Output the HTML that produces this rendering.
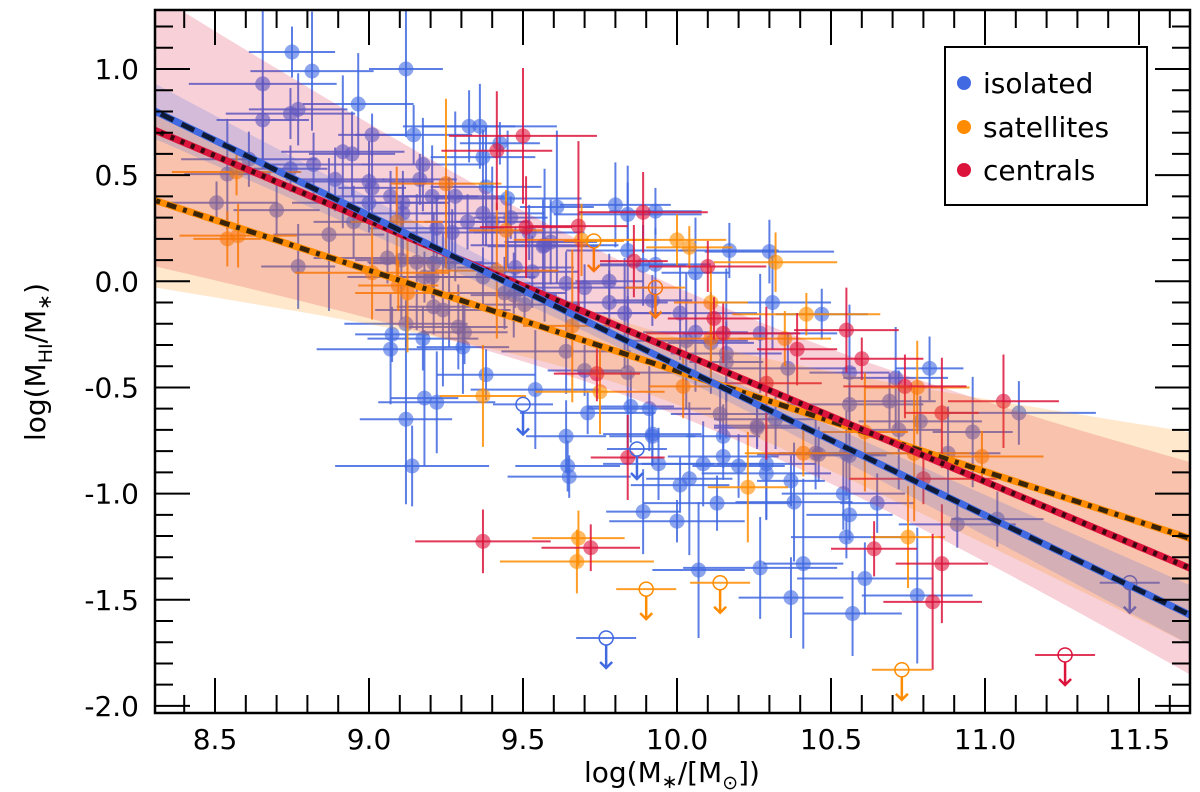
<!DOCTYPE html>
<html><head><meta charset="utf-8"><style>
html,body{margin:0;padding:0;background:#fff;}
svg{display:block;font-family:"DejaVu Sans","Liberation Sans",sans-serif;}
</style></head><body>
<svg id="chart" width="1200" height="792" viewBox="0 0 1200 792" xmlns="http://www.w3.org/2000/svg">
<defs><clipPath id="pc"><rect x="155" y="10" width="1035" height="703"/></clipPath></defs>
<g id="pts" clip-path="url(#pc)"></g>
<g id="bands" clip-path="url(#pc)"></g>
<g id="lines" clip-path="url(#pc)"></g>
<g id="axes"></g>
<g>
<rect x="945" y="47" width="202" height="158" fill="#fff" stroke="#000" stroke-width="2"/>
<circle cx="964" cy="83" r="7" fill="#4169e1"/>
<text x="983" y="93" font-size="28">isolated</text>
<circle cx="964" cy="127" r="7" fill="#ff8c00"/>
<text x="983" y="137" font-size="28">satellites</text>
<circle cx="964" cy="170" r="7" fill="#dc143c"/>
<text x="983" y="180" font-size="28">centrals</text>
</g>
<text x="672" y="782" font-size="28" text-anchor="middle">log(M<tspan font-size="19" dy="6">∗</tspan><tspan dy="-6">/[M</tspan><tspan font-size="19" dy="7">⊙</tspan><tspan dy="-7">])</tspan></text>
<text transform="translate(45,362) rotate(-90)" font-size="28" text-anchor="middle">log(M<tspan font-size="19" dy="7">HI</tspan><tspan dy="-7">/M</tspan><tspan font-size="19" dy="6">∗</tspan><tspan dy="-6">)</tspan></text>
</svg>
<script>
const isoX=[8.75,8.815,9.12,8.965,8.655,8.655,8.77,8.745,9.01,9.145,9.325,9.36,9.425,9.37,8.915,8.945,8.82,8.745,8.61,8.89,8.54,9.175,9.165,9.38,9.45,9.205,9.28,9.0,9.01,9.07,9.11,9.0,8.95,9.11,8.505,8.70,8.87,8.77,9.22,9.27,9.32,9.37,9.40,9.565,9.06,9.105,9.155,9.21,9.26,9.475,9.53,9.18,9.205,9.37,9.44,9.47,9.505,9.21,9.24,9.29,9.31,9.12,9.075,9.175,9.07,9.305,9.38,9.54,9.18,9.22,9.12,9.14,9.64,9.645,9.65,9.92,9.94,9.89,10.0,10.01,10.04,10.085,10.15,10.15,10.13,10.2,10.29,10.29,10.37,10.38,10.07,10.27,10.41,10.37,10.54,10.56,10.55,10.65,10.61,10.57,10.26,10.46,9.61,9.80,9.84,9.93,10.17,10.3,10.06,10.31,10.47,10.27,10.56,10.71,9.84,9.89,9.93,9.7,9.71,9.92,9.85,9.91,9.46,9.52,9.57,9.59,9.64,9.70,9.78,9.78,9.83,10.01,9.92,10.06,10.03,10.11,10.16,10.16,10.36,10.14,10.26,10.32,10.45,10.55,10.56,10.69,9.84,9.64,10.82,10.91,11.04,11.11,10.96,10.88,10.79,10.72,10.78,10.56];
const isoY=[1.08,0.99,1.0,0.835,0.93,0.76,0.81,0.79,0.69,0.69,0.73,0.73,0.65,0.585,0.61,0.60,0.55,0.53,0.575,0.48,0.505,0.55,0.48,0.445,0.39,0.40,0.40,0.47,0.44,0.40,0.37,0.37,0.28,0.32,0.37,0.335,0.22,0.07,0.25,0.23,0.28,0.32,0.28,0.165,0.11,0.10,0.09,0.085,0.09,0.065,0.045,0.02,0.02,0.02,-0.055,-0.065,-0.11,-0.12,-0.135,-0.215,-0.24,-0.20,-0.25,-0.27,-0.32,-0.31,-0.44,-0.51,-0.55,-0.57,-0.65,-0.87,-0.73,-0.87,-0.92,-0.73,-0.86,-1.085,-1.13,-0.96,-0.93,-0.86,-0.73,-0.825,-1.045,-0.87,-0.86,-0.905,-0.94,-1.04,-1.36,-1.35,-1.33,-1.49,-1.0,-1.1,-1.205,-1.045,-1.40,-1.565,-0.69,-0.815,0.35,0.36,0.315,0.33,0.145,0.14,0.04,-0.10,-0.155,-0.245,-0.43,-0.455,0.145,0.075,0.08,-0.42,-0.62,-0.72,-0.59,-0.60,0.30,0.23,0.17,0.185,-0.01,-0.03,0.0,-0.10,-0.15,-0.15,-0.09,-0.24,-0.28,-0.29,-0.34,-0.38,-0.41,-0.625,-0.68,-0.65,-0.81,-0.81,-0.58,-0.565,-0.43,-0.33,-0.41,-1.145,-1.12,-0.62,-0.71,-0.81,-0.66,-0.70,-1.48,-0.82];
const isoLimX=[9.5,9.77,9.87,11.47];
const isoLimY=[-0.58,-1.68,-0.79,-1.42];
const satX=[8.57,8.54,8.575,9.09,9.01,9.095,9.125,9.415,9.37,9.25,9.445,9.69,10.0,10.04,10.32,10.11,10.11,10.42,10.35,9.66,9.75,10.02,10.41,9.68,9.675,10.23,10.78,10.99,10.61,10.77,10.75];
const satY=[0.515,0.20,0.215,0.28,0.04,-0.02,-0.055,0.05,-0.54,0.46,0.24,0.195,0.195,0.16,0.09,-0.10,-0.27,-0.155,-0.27,-0.21,-0.52,-0.495,-0.81,-1.21,-1.32,-0.97,-0.50,-0.825,-0.71,-0.81,-1.205];
const satLimX=[9.73,9.93,9.9,10.14,10.73];
const satLimY=[0.19,-0.03,-1.45,-1.42,-1.83];
const cenX=[9.415,9.5,9.51,9.68,9.89,9.86,10.1,10.12,10.15,10.39,10.55,10.6,9.74,10.29,9.84,9.37,9.72,10.64,10.74,10.86,11.06,10.80,10.86,10.83];
const cenY=[0.615,0.685,0.255,0.26,0.325,0.095,0.07,-0.175,-0.245,-0.32,-0.23,-0.365,-0.435,-0.48,-0.83,-1.225,-1.255,-1.26,-0.495,-0.62,-0.565,-0.93,-1.33,-1.51];
const cenLimX=[11.26];
const cenLimY=[-1.76];
const xErrs=[0.14,0.2,0.12,0.18,0.24,0.15,0.16,0.21,0.11,0.19,0.15,0.25,0.13,0.17,0.2,0.14,0.18,0.12,0.22,0.16];
const yErrs=[0.12,0.2,0.1,0.28,0.15,0.14,0.32,0.11,0.17,0.24,0.13,0.2,0.4,0.15,0.1,0.19,0.26,0.13,0.17,0.22,0.36,0.12];
const isoFit=[0.80,-1.57], isoBand=[0.13,0.05,0.14], isoMid=9.9;
const satFit=[0.38,-1.21], satBand=[0.41,0.15,0.5], satMid=9.8;
const cenFit=[0.71,-1.35], cenBand=[0.64,0.3,0.5], cenMid=10.1;
const xTicks=[8.5,9.0,9.5,10.0,10.5,11.0,11.5];
const yTicks=[1.0,0.5,0.0,-0.5,-1.0,-1.5,-2.0];

const NS="http://www.w3.org/2000/svg";
const X0=8.307,X1=11.663;
const sx=x=>215+(x-8.5)*308, sy=y=>69+(1-y)*212.3;
function mk(tag,attrs,parent){const e=document.createElementNS(NS,tag);for(const k in attrs)e.setAttribute(k,attrs[k]);parent.appendChild(e);return e;}
const pts=document.getElementById('pts'),bands=document.getElementById('bands'),lines=document.getElementById('lines'),axes=document.getElementById('axes');

function drawGroup(xs,ys,col,name,off){
  xs.forEach((x,i)=>{
    const g=mk('g',{},pts);
    
    
    const xe=xErrs[(i+off)%xErrs.length], ye=yErrs[(i*3+off)%yErrs.length];
    mk('line',{x1:sx(x-xe),x2:sx(x+xe),y1:sy(ys[i]),y2:sy(ys[i]),stroke:col,'stroke-width':2,'stroke-opacity':0.85},g);
    mk('line',{x1:sx(x),x2:sx(x),y1:sy(ys[i]+ye),y2:sy(ys[i]-ye),stroke:col,'stroke-width':2,'stroke-opacity':0.85},g);
    mk('circle',{cx:sx(x),cy:sy(ys[i]),r:7.5,fill:col,'fill-opacity':0.6},g);
  });
}
function drawLims(xs,ys,col,name){
  xs.forEach((x,i)=>{
    const g=mk('g',{},pts);
    
    
    const cx=sx(x),cy=sy(ys[i]);
    mk('line',{x1:cx-30,x2:cx+30,y1:cy,y2:cy,stroke:col,'stroke-width':2,'stroke-opacity':0.85},g);
    mk('circle',{cx:cx,cy:cy,r:7,fill:'none',stroke:col,'stroke-width':1.5},g);
    mk('line',{x1:cx,x2:cx,y1:cy+7,y2:cy+30,stroke:col,'stroke-width':2.5},g);
    mk('path',{d:`M${cx-6},${cy+24} L${cx},${cy+30} L${cx+6},${cy+24}`,fill:'none',stroke:col,'stroke-width':2.5},g);
  });
}
drawGroup(isoX,isoY,'#4169e1','isolated',0);
drawGroup(satX,satY,'#ff8c00','satellite',7);
drawGroup(cenX,cenY,'#dc143c','central',3);
drawLims(isoLimX,isoLimY,'#4169e1','isolated');
drawLims(satLimX,satLimY,'#ff8c00','satellite');
drawLims(cenLimX,cenLimY,'#dc143c','central');

function fitY(f,x){return f[0]+(f[1]-f[0])*(x-X0)/(X1-X0);}
function half(b,m,x){const h0=b[1];const edge=x<m?b[0]:b[2];const dx0=x<m?(X0-m):(X1-m);const k=(edge*edge-h0*h0)/(dx0*dx0);return Math.sqrt(h0*h0+k*(x-m)*(x-m));}
function drawBand(f,b,m,col,name){
  const up=[],dn=[];
  for(let i=0;i<=60;i++){const x=X0-0.05+(X1-X0+0.1)*i/60;const c=fitY(f,x),h=half(b,m,x);up.push(sx(x).toFixed(1)+','+sy(c+h).toFixed(1));dn.unshift(sx(x).toFixed(1)+','+sy(c-h).toFixed(1));}
  const p=mk('polygon',{points:up.concat(dn).join(' '),fill:col,'fill-opacity':0.2},bands);
  
  
}
drawBand(cenFit,cenBand,cenMid,'#dc143c','centrals');
drawBand(satFit,satBand,satMid,'#ff8c00','satellites');
drawBand(isoFit,isoBand,isoMid,'#4169e1','isolated');

function drawLine(f,col,dcol,dash,name){
  const a={x1:sx(X0-0.05),y1:sy(fitY(f,X0-0.05)),x2:sx(X1+0.05),y2:sy(fitY(f,X1+0.05))};
  const l1=mk('line',Object.assign({stroke:col,'stroke-width':7},a),lines);
  
  
  mk('line',Object.assign({stroke:dcol,'stroke-width':5,'stroke-dasharray':dash},a),lines);
}
drawLine(satFit,'#ff8c00','#3b2508','10 7 4 7','satellites');
drawLine(cenFit,'#dc143c','#3a0810','4 7','centrals');
drawLine(isoFit,'#4169e1','#0d1a38','14 9','isolated');

mk('rect',{x:155,y:10,width:1035,height:703,fill:'none',stroke:'#000','stroke-width':2.5},axes);
for(let i=84;i<=116;i++){const v=i/10;const x=sx(v);const maj=(i%5===0);const L=maj?35:18;
  mk('line',{x1:x,x2:x,y1:713,y2:713-L,stroke:'#000','stroke-width':2},axes);
  mk('line',{x1:x,x2:x,y1:10,y2:10+L,stroke:'#000','stroke-width':2},axes);}
for(let i=-20;i<=12;i++){const v=i/10;const y=sy(v);const maj=(i%5===0);const L=maj?35:18;
  mk('line',{x1:155,x2:155+L,y1:y,y2:y,stroke:'#000','stroke-width':2},axes);
  mk('line',{x1:1190,x2:1190-L,y1:y,y2:y,stroke:'#000','stroke-width':2},axes);}
xTicks.forEach(v=>{const t=mk('text',{x:sx(v),y:749,'font-size':28,'text-anchor':'middle'},axes);t.textContent=v.toFixed(1);
  
  });
yTicks.forEach(v=>{const t=mk('text',{x:139,y:sy(v)+10,'font-size':28,'text-anchor':'end'},axes);t.textContent=v.toFixed(1);
  
  });
</script>
</body></html>
